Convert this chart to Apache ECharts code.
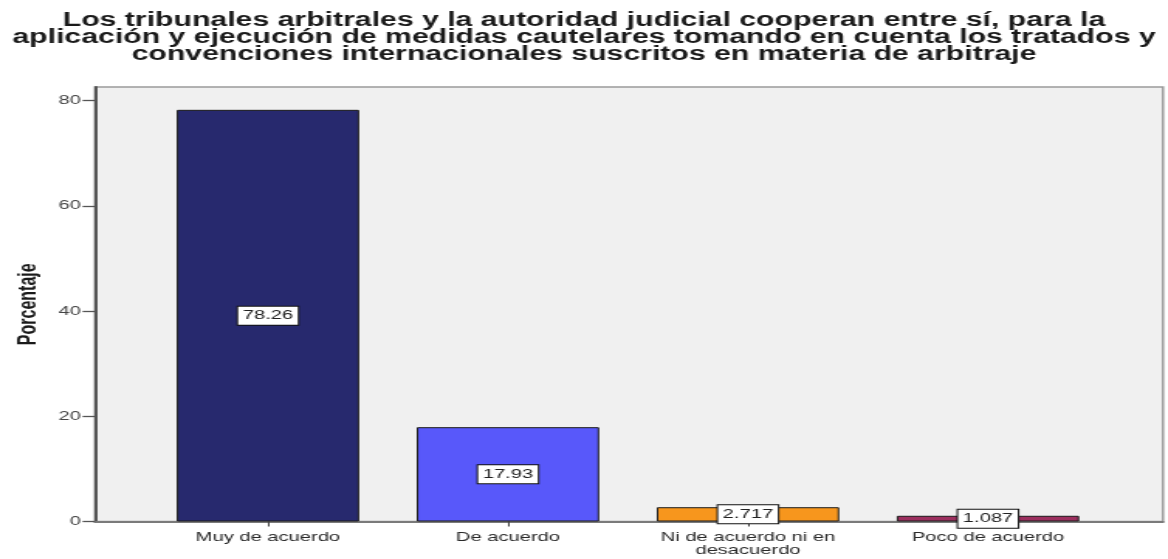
<!DOCTYPE html>
<html>
<head>
<meta charset="utf-8">
<script src="https://cdn.jsdelivr.net/npm/echarts@6/dist/echarts.min.js"></script>
<style>
  html, body { margin: 0; padding: 0; background: #ffffff; overflow: hidden; }
  /* the chart is laid out narrow and stretched sideways, like the SPSS export */
  #chart { width: 754px; height: 559px; transform: scaleX(1.549); transform-origin: 0 0; }
</style>
</head>
<body>
<div id="chart"></div>
<script>
// Survey answers and their percentages
const categories = ['Muy de acuerdo', 'De acuerdo', 'Ni de acuerdo ni en\ndesacuerdo', 'Poco de acuerdo'];
const percentages = [78.26, 17.93, 2.717, 1.087];
const yTicks = [0, 20, 40, 60, 80];
const titleText = 'Los tribunales arbitrales y la autoridad judicial cooperan entre sí, para la\n' +
  'aplicación y ejecución de medidas cautelares tomando en cuenta los tratados y\n' +
  'convenciones internacionales suscritos en materia de arbitraje';
const yName = 'Porcentaje';

// one fill per answer
const palette = ['#27296e', '#5858fa', '#f7961d', '#9c2f5e'];

const FONT = '"Liberation Sans", Arial, sans-serif';
const Y_MAX = 82.6;

const chart = echarts.init(document.getElementById('chart'), null, { renderer: 'canvas' });

chart.setOption({
  animation: false,
  backgroundColor: '#ffffff',
  title: {
    text: titleText,
    left: 'center',
    top: 7,
    textStyle: {
      fontFamily: FONT, fontSize: 19.5, fontWeight: 'bold', color: '#1a1a1a',
      lineHeight: 17
    }
  },
  grid: [
    // bars
    { left: 95.5, right: 38.7, top: 87, bottom: 37.5, containLabel: false },
    // plot frame with the value axis
    { left: 61.3, right: 3.2, top: 87, bottom: 37.5, containLabel: false,
      show: true, backgroundColor: '#f0f0f0', borderColor: '#9a9a9a', borderWidth: 1.5 }
  ],
  xAxis: [
    {
      type: 'category', gridIndex: 0, data: categories,
      axisLine: { show: false },
      axisTick: { show: true, alignWithLabel: true, length: 5, lineStyle: { color: '#444', width: 1 } },
      axisLabel: { interval: 0, margin: 9, fontFamily: FONT, fontSize: 13, color: '#2a2a2a', lineHeight: 13 }
    },
    {
      type: 'value', gridIndex: 1, min: 0, max: 1,
      axisLine: { show: true, onZero: false, lineStyle: { color: '#7a7a7a', width: 2 } },
      axisTick: { show: false }, axisLabel: { show: false }, splitLine: { show: false }
    }
  ],
  yAxis: [
    {
      type: 'value', gridIndex: 0, min: 0, max: Y_MAX, show: false, splitLine: { show: false }
    },
    {
      type: 'value', gridIndex: 1, min: 0, max: Y_MAX, interval: 20,
      name: yName, nameLocation: 'middle', nameGap: 34, nameRotate: 90,
      nameTextStyle: { fontFamily: FONT, fontSize: 16, fontWeight: 'bold', color: '#1a1a1a' },
      axisLine: { show: true, lineStyle: { color: '#555555', width: 2 } },
      axisTick: { show: true, length: 8, customValues: yTicks, lineStyle: { color: '#555555', width: 1.3 } },
      axisLabel: {
        margin: 9, fontFamily: FONT, fontSize: 13, color: '#444444', customValues: yTicks,
        formatter: v => (yTicks.indexOf(v) >= 0 ? String(v) : '')
      },
      splitLine: { show: false }
    }
  ],
  series: [
    {
      type: 'bar', xAxisIndex: 0, yAxisIndex: 0,
      data: percentages.map((v, i) => ({ value: v, itemStyle: { color: palette[i] } })),
      barCategoryGap: '24%',
      itemStyle: { borderColor: '#1c1c1c', borderWidth: 1 },
      label: {
        show: true, position: 'inside', formatter: '{c}',
        fontFamily: FONT, fontSize: 13, color: '#222222',
        backgroundColor: '#ffffff', borderColor: '#111111', borderWidth: 1,
        padding: [3, 3, 2, 3]
      }
    }
  ]
});
</script>
</body>
</html>
